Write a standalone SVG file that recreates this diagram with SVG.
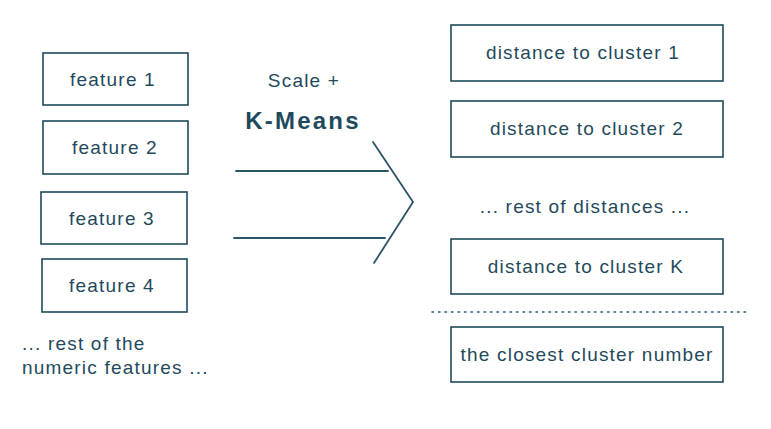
<svg xmlns="http://www.w3.org/2000/svg" width="771" height="429" viewBox="0 0 771 429">
<style>
.box{fill:none;stroke:#1f4a5c;stroke-width:1.6}
.t{font-family:"Liberation Sans",Arial,sans-serif;font-size:19px;letter-spacing:1.2px;fill:#1f4a5c;text-anchor:middle}
.tl{font-family:"Liberation Sans",Arial,sans-serif;font-size:19px;letter-spacing:1.2px;fill:#1f4a5c}
.big{font-size:24px;font-weight:bold;letter-spacing:2.2px}
.ln{fill:none;stroke:#2a5568;stroke-width:1.8;stroke-linecap:round}
</style>
<rect width="771" height="429" fill="#ffffff"/>
<g id="feature1"><rect class="box" x="43" y="53" width="145" height="52"/><text class="t" x="113" y="86">feature 1</text></g>
<g id="feature2"><rect class="box" x="43" y="121" width="145" height="53"/><text class="t" x="115" y="154">feature 2</text></g>
<g id="feature3"><rect class="box" x="41" y="192" width="146" height="52"/><text class="t" x="112" y="225">feature 3</text></g>
<g id="feature4"><rect class="box" x="42" y="259" width="145" height="53"/><text class="t" x="112" y="292">feature 4</text></g>
<g id="rest-features"><text class="tl" x="22" y="350">... rest of the</text><text class="tl" x="22" y="374">numeric features ...</text></g>
<g id="transform"><text class="t" x="304" y="87">Scale +</text><text class="t big" x="303" y="129">K-Means</text></g>
<g id="connectors">
<line class="ln" x1="236" y1="171" x2="388" y2="171"/>
<line class="ln" x1="234" y1="238" x2="385" y2="238"/>
<polyline class="ln" points="373,142 413,202 374,263"/>
<line x1="432" y1="312" x2="750" y2="312" stroke="#2a5568" stroke-width="1.5" stroke-dasharray="1.5,5" stroke-linecap="round"/>
</g>
<g id="dist1"><rect class="box" x="451" y="25" width="272" height="56"/><text class="t" x="583" y="59">distance to cluster 1</text></g>
<g id="dist2"><rect class="box" x="451" y="101" width="272" height="56"/><text class="t" x="587" y="135">distance to cluster 2</text></g>
<g id="rest-dist"><text class="t" x="585" y="213">... rest of distances ...</text></g>
<g id="distK"><rect class="box" x="451" y="239" width="272" height="55"/><text class="t" x="586" y="273">distance to cluster K</text></g>
<g id="closest"><rect class="box" x="451" y="327" width="272" height="55"/><text class="t" x="587" y="361">the closest cluster number</text></g>
</svg>
